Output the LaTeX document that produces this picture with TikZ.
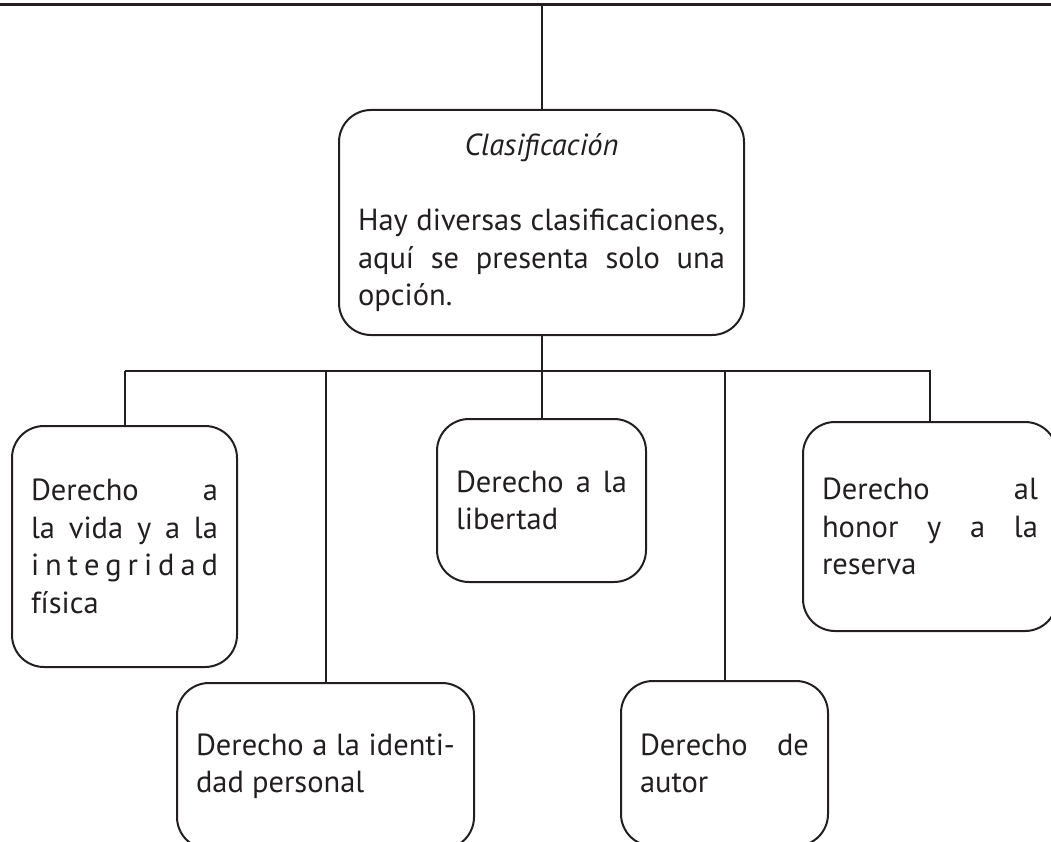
\documentclass[tikz,border=0pt]{standalone}
\usepackage{fontspec}
\setmainfont{PT Sans}
\setlength{\parindent}{0pt}
\definecolor{tinta}{RGB}{35,31,32}

\begin{document}
\begin{tikzpicture}[x=1pt,y=-1pt,
  every node/.style={font=\fontsize{30.5}{37.5}\selectfont,text=tinta},
  caja/.style={draw=tinta,line width=2pt,rounded corners=32pt,inner xsep=19pt,inner ysep=0pt,align=justify},
  linea/.style={draw=tinta,line width=2pt}]

\useasboundingbox (0,0) rectangle (1051,842);
\clip (0,0) rectangle (1051,842);

%%%%%%%%%%%%%%%%%%%%%%%%%%%%%%%%%%%%%%

\coordinate (izq) at (0,5);
\coordinate (der) at (1051,5);
\draw [linea,line width=3pt] (izq) -- (der);

\node [caja,text width=367pt,minimum height=225pt] (clasif) at (541.5,222.5)
  {\hfill\textit{Clasificación}\hfill\null\\[38pt]
   Hay diversas clasificaciones,\linebreak aquí se presenta solo una\linebreak opción.};

\draw [linea] (clasif.north) -- (clasif.north |- izq);

%%%%%%%%%%%%%%%%%%%%%%%%%%%%%%%%%%%%%%

\node [caja,text width=187pt,minimum height=241pt] (vida) at (124.5,546.5)
  {Derecho a\linebreak la vida y a la\linebreak \makebox[\hsize][s]{i n t e g r i d a d}\linebreak física};
\node [caja,text width=259pt,minimum height=166pt] (identidad) at (325.5,766)
  {Derecho a la identi-\linebreak dad personal};
\node [caja,text width=171pt,minimum height=163pt] (libertad) at (541.5,500.5)
  {Derecho a la\linebreak libertad};
\node [caja,text width=169pt,minimum height=165pt] (autor) at (724.5,763.5)
  {Derecho de\linebreak autor};
\node [caja,text width=216pt,minimum height=209pt] (honor) at (930,526.5)
  {Derecho al\linebreak honor y a la\linebreak reserva};

%%%%%%%%%%%%%%%%%%%%%%%%%%%%%%%%%%%%%%

\coordinate (busI) at (125,371);
\coordinate (busD) at (931,371);
\draw [linea] (busI) -- (busD);

\draw [linea] (clasif.south) -- (libertad.north);
\draw [linea] (vida.north) -- (vida.north |- busI);
\draw [linea] (identidad.north) -- (identidad.north |- busI);
\draw [linea] (autor.north) -- (autor.north |- busI);
\draw [linea] (honor.north) -- (honor.north |- busI);

\end{tikzpicture}
\end{document}
